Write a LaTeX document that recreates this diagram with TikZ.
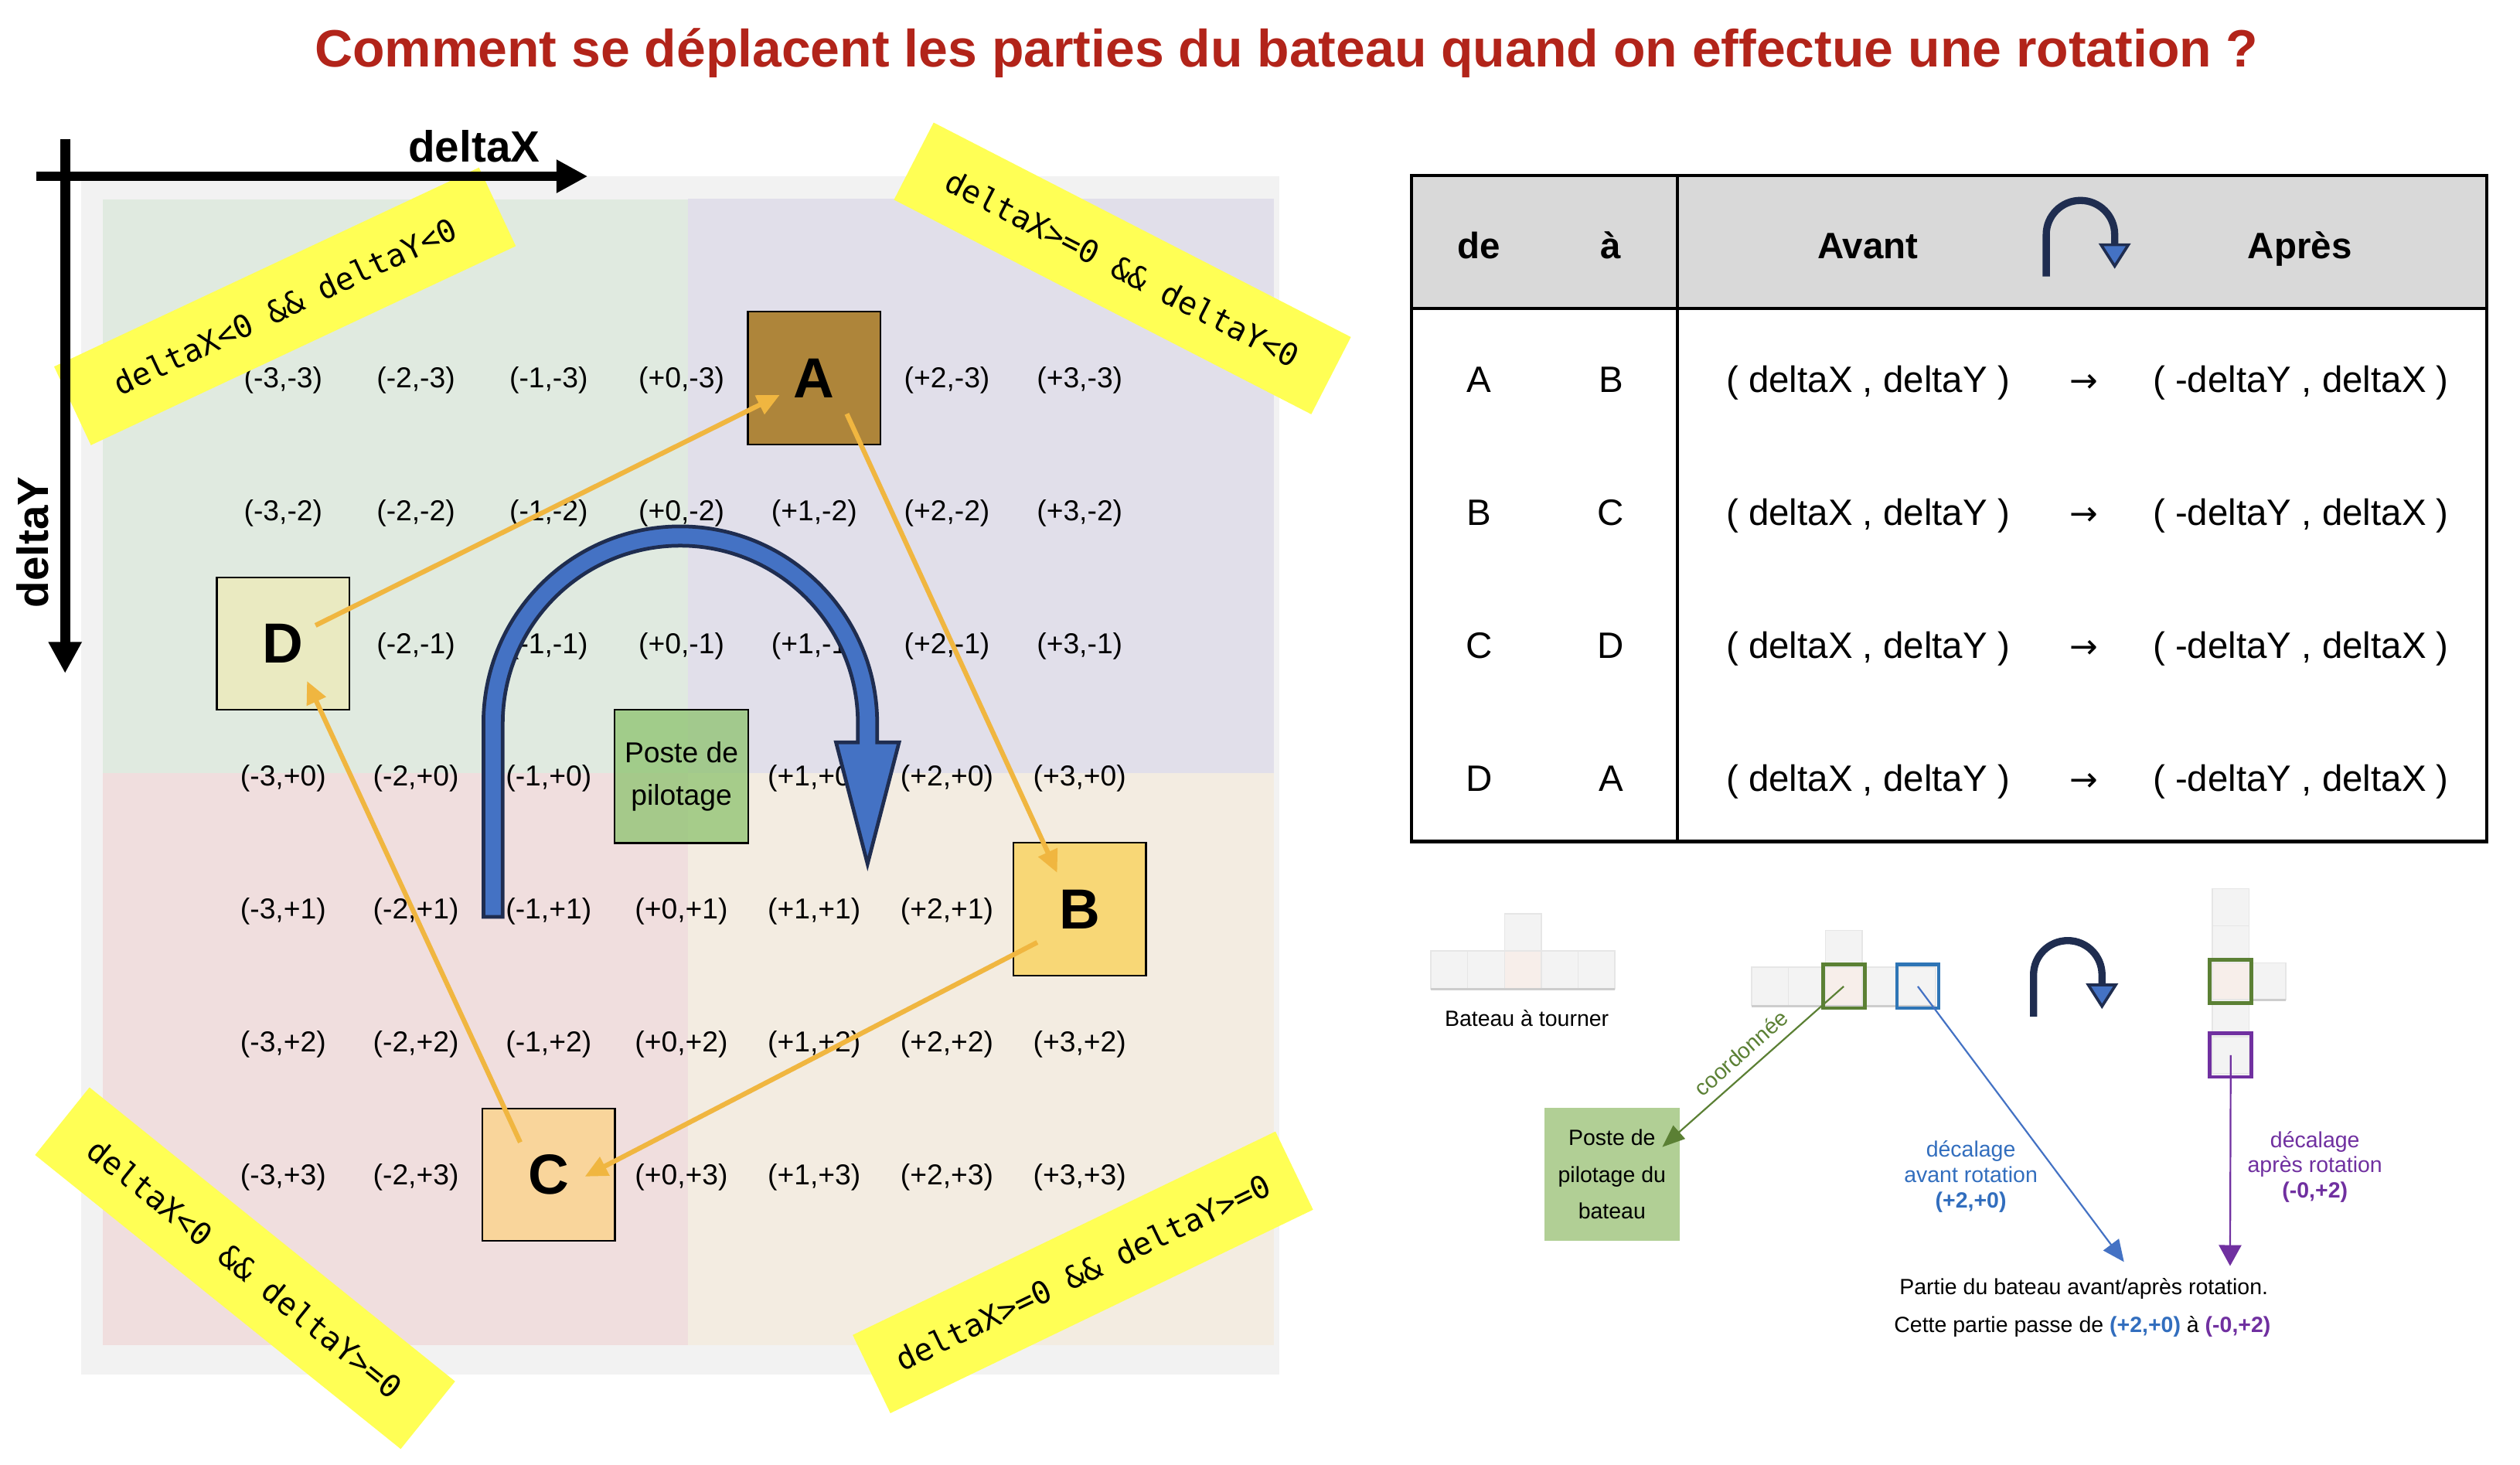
\documentclass[tikz,border=0pt]{standalone}
\usepackage{fontspec}
\setmainfont{Liberation Sans}
\newfontfamily\bannerfont{DejaVu Sans Mono}
\newfontfamily\arrowfont{DejaVu Sans}
\usepackage{xcolor}
\usepackage{tikz}
\usetikzlibrary{positioning, calc, arrows.meta}

\definecolor{titlered}{RGB}{178,36,26}
\definecolor{gridgray}{RGB}{242,242,242}
\definecolor{quadNW}{RGB}{224,234,224}
\definecolor{quadNE}{RGB}{225,223,234}
\definecolor{quadSW}{RGB}{240,222,222}
\definecolor{quadSE}{RGB}{243,236,225}
\definecolor{bannerYellow}{RGB}{255,255,85}
\definecolor{boxA}{RGB}{174,133,58}
\definecolor{boxB}{RGB}{248,215,118}
\definecolor{boxC}{RGB}{249,213,155}
\definecolor{boxD}{RGB}{234,234,193}
\definecolor{posteGreen}{RGB}{141,194,110}
\definecolor{orangeArrow}{RGB}{240,182,64}
\definecolor{rotBlue}{RGB}{68,114,196}
\definecolor{rotNavy}{RGB}{31,45,80}
\definecolor{headGray}{RGB}{217,217,217}
\definecolor{pdpGreen}{RGB}{177,207,149}
\definecolor{coordGreen}{RGB}{91,128,52}
\definecolor{partBlue}{RGB}{46,117,182}
\definecolor{lineBlue}{RGB}{68,114,196}
\definecolor{txtBlue}{RGB}{50,110,190}
\definecolor{offsetPurple}{RGB}{112,48,160}
\definecolor{boatCell}{RGB}{243,243,243}
\definecolor{boatEdge}{RGB}{230,230,230}
\definecolor{boatPivot}{RGB}{247,238,234}
\definecolor{boatShadow}{RGB}{205,205,205}

\begin{document}
\begin{tikzpicture}[x=0.02cm, y=-0.02cm,
    cell/.style={font=\fontsize{10.2}{12}\selectfont},
    letterbox/.style={draw, line width=0.6pt, minimum size=1.65cm, font=\fontsize{20}{24}\selectfont\bfseries},
    banner/.style={fill=bannerYellow, minimum width=5.84cm, minimum height=1.08cm, font=\bannerfont\fontsize{11}{13}\selectfont},
    moveto/.style={draw=orangeArrow, line width=1.7pt, -{Triangle[length=0.28cm, width=0.25cm]}},
    axisline/.style={line width=3.5pt, -{Triangle[length=0.39cm, width=0.39cm]}},
    tabtxt/.style={font=\fontsize{13}{15}\selectfont, anchor=base},
    tabhead/.style={font=\fontsize{13}{15}\selectfont\bfseries, anchor=base},
    smalltxt/.style={font=\fontsize{7.8}{9}\selectfont},
    boatcell/.style={fill=boatCell, draw=boatEdge, line width=0.4pt},
    outlined/.style={draw, line width=1.3pt, minimum width=0.52cm, minimum height=0.54cm, inner sep=0pt},
    offsetline/.style={line width=0.6pt}]

  \useasboundingbox (0,0) rectangle (1568,911);
  \fill[white] (0,0) rectangle (1568,911);

  % Title
  \node[font=\fontsize{18.6}{22}\selectfont\bfseries, text=titlered, anchor=base] (title) at (800.5,41.7)
    {Comment se déplacent les parties du bateau quand on effectue une rotation ?};

  % Grid background and quadrants
  \fill[gridgray] (50.6,109.5) rectangle (796.2,855);
  \fill[quadNW] (64,124) rectangle (428,481);
  \fill[quadNE] (428,123.4) rectangle (792.7,481);
  \fill[quadSW] (64,481) rectangle (428,837);
  \fill[quadSE] (428,481) rectangle (792.7,837);

  % Cell offsets
  \foreach \i in {-3,...,3} {
    \foreach \j in {-3,...,3} {
      \pgfmathtruncatemacro{\taken}{(\i==0 && \j==0) || (\i==1 && \j==-3) || (\i==3 && \j==1) || (\i==-1 && \j==3) || (\i==-3 && \j==-1)}
      \ifnum\taken=0
        \node[cell] (cell\i\j) at (424+\i*82.6, 484.5+\j*82.6) {(\ifnum\i<0 \i\else+\i\fi,\ifnum\j<0 \j\else+\j\fi)};
      \fi
    }
  }

  % Rotation arrow
  \filldraw[fill=rotBlue, draw=rotNavy, line width=1.3pt, line join=miter]
    (300.8,570.4) -- (300.8,450) arc[start angle=180, end angle=360, radius=122.5]
    -- (545.8,461.9) -- (559.4,461.9) -- (539.8,537.5) -- (520.2,461.9) -- (533.8,461.9)
    -- (533.8,450) arc[start angle=0, end angle=-180, radius=110.5] -- (312.8,570.4) -- cycle;

  % Poste de pilotage
  \node[draw, line width=0.6pt, fill=posteGreen, fill opacity=0.75, text opacity=1, minimum size=1.66cm,
    align=center, font=\fontsize{10.2}{15}\selectfont] (poste) at (424,483) {Poste de\\pilotage};

  % Parts of the boat
  \node[letterbox, fill=boxA] (A) at (506.6,235.2) {A};
  \node[letterbox, fill=boxB] (B) at (671.8,565.6) {B};
  \node[letterbox, fill=boxC] (C) at (341.4,730.8) {C};
  \node[letterbox, fill=boxD] (D) at (176.2,400.4) {D};

  \draw[moveto] ($(D)+(20.1,-11.3)$) -- ($(A)+(-21.4,10.5)$);
  \draw[moveto] ($(A)+(20.3,22.3)$) -- ($(B)+(-14,-22.6)$);
  \draw[moveto] ($(B)+(-26.4,20.7)$) -- ($(C)+(22.5,1.2)$);
  \draw[moveto] ($(C)+(-17.7,-20.1)$) -- ($(D)+(14.8,23.3)$);

  % Quadrant banners
  \node[banner, rotate=25.1] (qNW) at (177.3,190.6) {deltaX<0 \&\& deltaY<0};
  \node[banner, rotate=-27.2] (qNE) at (698.4,167) {deltaX>=0 \&\& deltaY<0};
  \node[banner, rotate=-38.8] (qSW) at (152.5,789) {deltaX<0 \&\& deltaY>=0};
  \node[banner, rotate=25.7] (qSE) at (673.8,791.6) {deltaX>=0 \&\& deltaY>=0};

  % Axes
  \draw[axisline] (22.6,109.7) -- (365.7,109.7);
  \draw[axisline] (40.5,86.6) -- (40.5,418.9);
  \node[font=\fontsize{15.5}{18}\selectfont\bfseries] (dxlabel) at (295,90.8) {deltaX};
  \node[font=\fontsize{15.5}{18}\selectfont\bfseries, rotate=90] (dylabel) at (20.1,337.4) {deltaY};

  % Table
  \fill[headGray] (878.3,109.2) rectangle (1547.4,192);
  \draw[line width=1.2pt] (878.3,109.2) rectangle (1547.4,523.6);
  \draw[line width=1.2pt] (878.3,192) -- (1547.4,192);
  \draw[line width=1.2pt] (1043.6,109.2) -- (1043.6,523.6);

  \node[tabhead] (hde) at (920.4,161) {de};
  \node[tabhead] (ha) at (1002.4,161) {à};
  \node[tabhead] (havant) at (1162.3,161) {Avant};
  \node[tabhead] (hapres) at (1431,161) {Après};

  \foreach \row/\src/\dst in {0/A/B, 1/B/C, 2/C/D, 3/D/A} {
    \node[tabtxt] (src\row) at (920.4,243.9+\row*82.8) {\src};
    \node[tabtxt] (dst\row) at (1002.4,243.9+\row*82.8) {\dst};
    \node[tabtxt] (avant\row) at (1162.3,243.9+\row*82.8) {( deltaX , deltaY )};
    \node[tabtxt] (fleche\row) at (1296.6,243.9+\row*82.8) {\arrowfont\fontsize{12}{14}\selectfont →};
    \node[tabtxt] (apres\row) at (1431.6,243.9+\row*82.8) {( -deltaY , deltaX )};
  }

  % Rotation icons
  \foreach \cx/\cy in {1294.5/146, 1286.6/606.5} {
    \draw[rotNavy, line width=2.55pt] (\cx-21.3,\cy+26) -- (\cx-21.3,\cy)
      arc[start angle=180, end angle=360, radius=21.3] -- (\cx+21.3,\cy+6.3);
    \filldraw[fill=rotBlue, draw=rotNavy, line width=1pt, line join=miter]
      (\cx+12.8,\cy+6.3) -- (\cx+29.8,\cy+6.3) -- (\cx+21.3,\cy+19.6) -- cycle;
  }

  % Boat to turn
  \foreach \k in {0,...,4} \filldraw[boatcell] (890.3+\k*22.9,591.5) rectangle ++(22.9,23.8);
  \filldraw[boatcell] (936.1,568.6) rectangle ++(22.9,22.9);
  \filldraw[boatcell, fill=boatPivot] (936.1,591.5) rectangle ++(22.9,23.8);
  \draw[boatShadow, line width=0.8pt] (890.3,615.6) -- (1004.8,615.6);
  \node[smalltxt] (bateau) at (950,633.4) {Bateau à tourner};

  % Boat before rotation
  \foreach \k in {0,...,4} \filldraw[boatcell] (1089.9+\k*22.9,601.8) rectangle ++(22.9,23.8);
  \filldraw[boatcell] (1135.7,578.9) rectangle ++(22.9,22.9);
  \filldraw[boatcell, fill=boatPivot] (1135.7,601.8) rectangle ++(22.9,23.8);
  \draw[boatShadow, line width=0.8pt] (1089.9,625.9) -- (1204.4,625.9);
  \node[outlined, draw=coordGreen] (pivotBefore) at (1147.2,613.7) {};
  \node[outlined, draw=partBlue] (partBefore) at (1193.3,613.7) {};

  % Boat after rotation
  \foreach \k in {0,...,4} \filldraw[boatcell] (1376.5,553+\k*23) rectangle ++(22.9,23);
  \filldraw[boatcell] (1399.4,599) rectangle ++(22.9,23);
  \filldraw[boatcell, fill=boatPivot] (1376.5,599) rectangle ++(22.9,23);
  \draw[boatShadow, line width=0.8pt] (1399.4,622.3) -- (1422.3,622.3);
  \node[outlined, draw=coordGreen] (pivotAfter) at (1388,610.5) {};
  \node[outlined, draw=offsetPurple] (partAfter) at (1388,656.5) {};

  % Labels
  \node[fill=pdpGreen, minimum width=1.68cm, minimum height=1.66cm, align=center,
    font=\fontsize{7.8}{13}\selectfont] (pdp) at (1003,730.6) {Poste de\\pilotage du\\bateau};
  \node[smalltxt, text=txtBlue, align=center] (decAvant) at (1226.3,731.9) {décalage\\avant rotation\\\textbf{(+2,+0)}};
  \node[smalltxt, text=offsetPurple, align=center] (decApres) at (1440.4,726) {décalage\\après rotation\\\textbf{(-0,+2)}};
  \node[smalltxt] (partie) at (1296.6,801.8) {Partie du bateau avant/après rotation.};
  \node[smalltxt] (passe) at (1295.7,825.4) {Cette partie passe de \textcolor{txtBlue}{\textbf{(+2,+0)}} à \textcolor{offsetPurple}{\textbf{(-0,+2)}}};

  % Offsets
  \draw[offsetline, coordGreen, -{Triangle[length=0.28cm, width=0.22cm]}] (pivotBefore.center) -- ($(pdp.east)+(-11,-17)$)
    node[midway, above, sloped, smalltxt, text=coordGreen] (coordLbl) {coordonnée};
  \draw[offsetline, lineBlue, -{Triangle[length=0.27cm, width=0.24cm]}] (partBefore.center) -- ($(partie.north)+(25,-4)$);
  \draw[offsetline, offsetPurple, -{Triangle[length=0.26cm, width=0.28cm]}] (partAfter.center) -- ($(partie.north)+(91,-1.5)$);
\end{tikzpicture}
\end{document}
